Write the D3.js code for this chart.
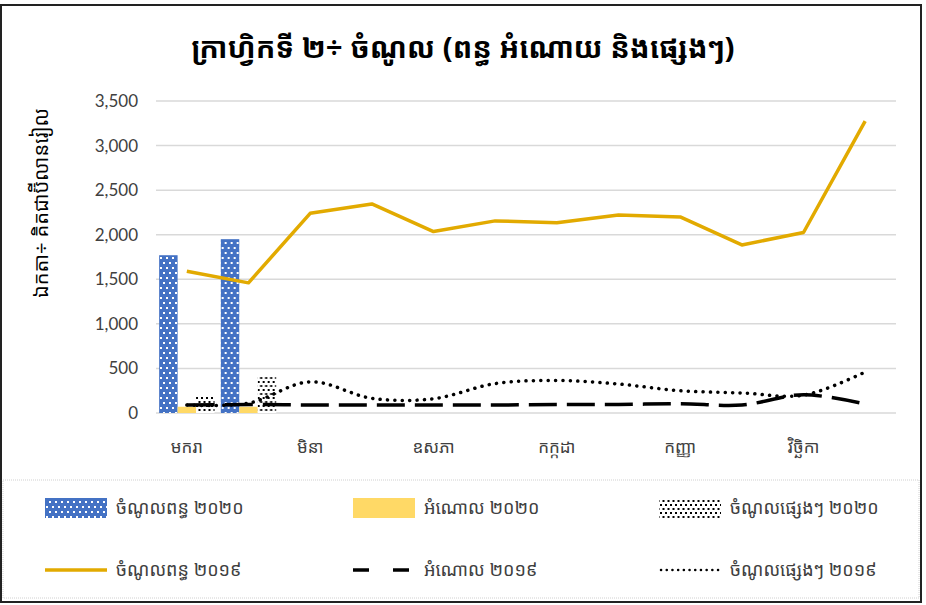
<!DOCTYPE html>
<html>
<head>
<meta charset="utf-8">
<script src="https://cdn.jsdelivr.net/npm/d3@7"></script>
<style>
  body { margin: 0; background: #fff; }
  .kh { font-family: "Khmer OS", "Noto Sans Khmer", "Noto Serif Khmer", "Khmer OS System", sans-serif; }
  .num { font-family: Lato, "Open Sans", sans-serif; }
</style>
</head>
<body>
<div id="chart"></div>
<script>
// chart size
var svgWidth = 926;
var svgHeight = 605;

var margin = { top: 101, right: 30, bottom: 192, left: 156 };
var width = 896 - margin.left;
var height = 413 - margin.top;

// months (Khmer)
var months = ["មករា", "កុម្ភៈ", "មិនា", "មេសា", "ឧសភា", "មិថុនា", "កក្កដា", "សីហា", "កញ្ញា", "តុលា", "វិច្ឆិកា", "ធ្នូ"];
var shownMonths = ["មករា", "មិនា", "ឧសភា", "កក្កដា", "កញ្ញា", "វិច្ឆិកា"];

// 2020 bars (only Jan, Feb)
var tax2020 = [1770, 1950];
var grant2020 = [70, 70];
var other2020 = [200, 415];

// 2019 lines
var tax2019 = [1590, 1460, 2240, 2345, 2035, 2155, 2135, 2220, 2200, 1885, 2025, 3275];
var grant2019 = [90, 95, 90, 90, 90, 90, 95, 95, 105, 90, 205, 100];
var other2019 = [90, 110, 350, 165, 160, 330, 365, 325, 250, 225, 200, 460];

var yTicks = [0, 500, 1000, 1500, 2000, 2500, 3000, 3500];

var title = "ក្រាហ្វិកទី ២÷ ចំណូល (ពន្ធ អំណោយ និងផ្សេងៗ)";
var yLabel = "ឯកតា÷ គិតជាប៊ីលានរៀល";
var barNames = ["ចំណូលពន្ធ ២០២០", "អំណោល ២០២០", "ចំណូលផ្សេងៗ ២០២០"];
var lineNames = ["ចំណូលពន្ធ ២០១៩", "អំណោល ២០១៩", "ចំណូលផ្សេងៗ ២០១៩"];

var gold = "#E2AA00";
var blue = "#4472C4";
var yellow = "#FFD966";

var svg = d3.select("#chart")
  .append("svg")
  .attr("width", svgWidth)
  .attr("height", svgHeight);

// patterns
var defs = svg.append("defs");
var pBlue = defs.append("pattern")
  .attr("id", "blueDots")
  .attr("patternUnits", "userSpaceOnUse")
  .attr("width", 6).attr("height", 10);
pBlue.append("rect").attr("width", 6).attr("height", 10).attr("fill", blue);
pBlue.append("rect").attr("x", 1).attr("y", 1).attr("width", 2).attr("height", 2).attr("fill", "#fff");
pBlue.append("rect").attr("x", 4).attr("y", 6).attr("width", 2).attr("height", 2).attr("fill", "#fff");

var pBlack = defs.append("pattern")
  .attr("id", "blackDots")
  .attr("patternUnits", "userSpaceOnUse")
  .attr("width", 5).attr("height", 8);
pBlack.append("rect").attr("width", 5).attr("height", 8).attr("fill", "#fff");
pBlack.append("rect").attr("x", 0).attr("y", 0).attr("width", 2).attr("height", 2).attr("fill", "#000");
pBlack.append("rect").attr("x", 2.5).attr("y", 4).attr("width", 2).attr("height", 2).attr("fill", "#000");

// outer border
svg.append("rect")
  .attr("x", 1).attr("y", 5)
  .attr("width", 920).attr("height", 597)
  .attr("fill", "none")
  .attr("stroke", "#222")
  .attr("stroke-width", 2);

// legend box (dotted light border)
svg.append("rect")
  .attr("x", 3).attr("y", 480)
  .attr("width", 916).attr("height", 118)
  .attr("fill", "none")
  .attr("stroke", "#d0d0d0")
  .attr("stroke-dasharray", "1,1");

// title
svg.append("text")
  .attr("class", "kh")
  .attr("x", 463).attr("y", 58)
  .attr("text-anchor", "middle")
  .attr("font-size", 29)
  .attr("font-weight", "bold")
  .attr("fill", "#000")
  .text(title);

var chartGroup = svg.append("g")
  .attr("transform", `translate(${margin.left}, ${margin.top})`);

var xScale = d3.scaleBand()
  .domain(months)
  .range([0, width]);

var yScale = d3.scaleLinear()
  .domain([0, 3500])
  .range([height, 0]);

// gridlines
chartGroup.append("g")
  .selectAll("line")
  .data(yTicks)
  .enter()
  .append("line")
  .attr("x1", 0).attr("x2", width)
  .attr("y1", d => yScale(d)).attr("y2", d => yScale(d))
  .attr("stroke", "#d9d9d9")
  .attr("stroke-width", 1.5);

// y axis labels
var leftAxis = d3.axisLeft(yScale)
  .tickValues(yTicks)
  .tickSize(0)
  .tickPadding(18)
  .tickFormat(d3.format(","));
var yAxisG = chartGroup.append("g").call(leftAxis);
yAxisG.select(".domain").remove();
yAxisG.selectAll("text")
  .attr("class", "num")
  .attr("font-size", 17)
  .attr("fill", "#404040");

// x axis labels
var bottomAxis = d3.axisBottom(xScale)
  .tickValues(shownMonths)
  .tickSize(0)
  .tickPadding(28);
var xAxisG = chartGroup.append("g")
  .attr("transform", `translate(0, ${height})`)
  .call(bottomAxis);
xAxisG.select(".domain").remove();
xAxisG.selectAll("text")
  .attr("class", "kh")
  .attr("font-size", 17)
  .attr("fill", "#404040");

// y axis title
svg.append("text")
  .attr("class", "kh")
  .attr("transform", "translate(48, 203) rotate(-90)")
  .attr("text-anchor", "middle")
  .attr("font-size", 20)
  .attr("fill", "#000")
  .text(yLabel);

// bars
var barKeys = ["tax", "grant", "other"];
var barData = months.slice(0, 2).map(function(m, i) {
  return { month: m, tax: tax2020[i], grant: grant2020[i], other: other2020[i] };
});
var barFill = { tax: "url(#blueDots)", grant: yellow, other: "url(#blackDots)" };

var x1 = d3.scaleBand()
  .domain(barKeys)
  .range([0, xScale.bandwidth()])
  .paddingOuter(0.17);

var groups = chartGroup.selectAll(".bargroup")
  .data(barData)
  .enter()
  .append("g")
  .attr("class", "bargroup")
  .attr("transform", d => `translate(${xScale(d.month)}, 0)`);

groups.selectAll("rect")
  .data(d => barKeys.map(k => ({ key: k, value: d[k] })))
  .enter()
  .append("rect")
  .attr("x", d => x1(d.key))
  .attr("width", x1.bandwidth())
  .attr("y", d => yScale(d.value))
  .attr("height", d => height - yScale(d.value))
  .attr("fill", d => barFill[d.key]);

// lines
var xc = d => xScale(d.m) + xScale.bandwidth() / 2;
function series(vals) {
  return vals.map((v, i) => ({ m: months[i], v: v }));
}

var straight = d3.line().x(xc).y(d => yScale(d.v));
var smooth = d3.line().x(xc).y(d => yScale(d.v)).curve(d3.curveCatmullRom.alpha(0.5));

chartGroup.append("path")
  .datum(series(other2019))
  .attr("d", smooth)
  .attr("fill", "none")
  .attr("stroke", "#000")
  .attr("stroke-width", 3.5)
  .attr("stroke-linecap", "round")
  .attr("stroke-dasharray", "0.1,7.3");

chartGroup.append("path")
  .datum(series(grant2019))
  .attr("d", smooth)
  .attr("fill", "none")
  .attr("stroke", "#000")
  .attr("stroke-width", 3.5)
  .attr("stroke-dasharray", "28,10");

chartGroup.append("path")
  .datum(series(tax2019))
  .attr("d", straight)
  .attr("fill", "none")
  .attr("stroke", gold)
  .attr("stroke-width", 3.5)
  .attr("stroke-linejoin", "round");

// legend
var legX = [45, 353, 659];
var legend = svg.append("g");

legX.forEach(function(lx, i) {
  var fills = [barFill.tax, yellow, barFill.other];
  legend.append("rect")
    .attr("x", lx).attr("y", 498)
    .attr("width", 62).attr("height", 20)
    .attr("fill", fills[i]);
  legend.append("text")
    .attr("class", "kh")
    .attr("x", lx + 71).attr("y", 514)
    .attr("font-size", 18)
    .attr("fill", "#404040")
    .text(barNames[i]);

  var ln = legend.append("line")
    .attr("x1", lx).attr("x2", lx + 62)
    .attr("y1", 570).attr("y2", 570)
    .attr("fill", "none");
  if (i === 0) {
    ln.attr("stroke", gold).attr("stroke-width", 3.5);
  } else if (i === 1) {
    ln.attr("stroke", "#000").attr("stroke-width", 3.5).attr("stroke-dasharray", "16,24");
  } else {
    ln.attr("stroke", "#000").attr("stroke-width", 2.5)
      .attr("stroke-linecap", "round").attr("stroke-dasharray", "0.1,5.6")
      .attr("x1", lx + 2).attr("x2", lx + 60);
  }
  legend.append("text")
    .attr("class", "kh")
    .attr("x", lx + 71).attr("y", 576)
    .attr("font-size", 18)
    .attr("fill", "#404040")
    .text(lineNames[i]);
});
</script>
</body>
</html>
